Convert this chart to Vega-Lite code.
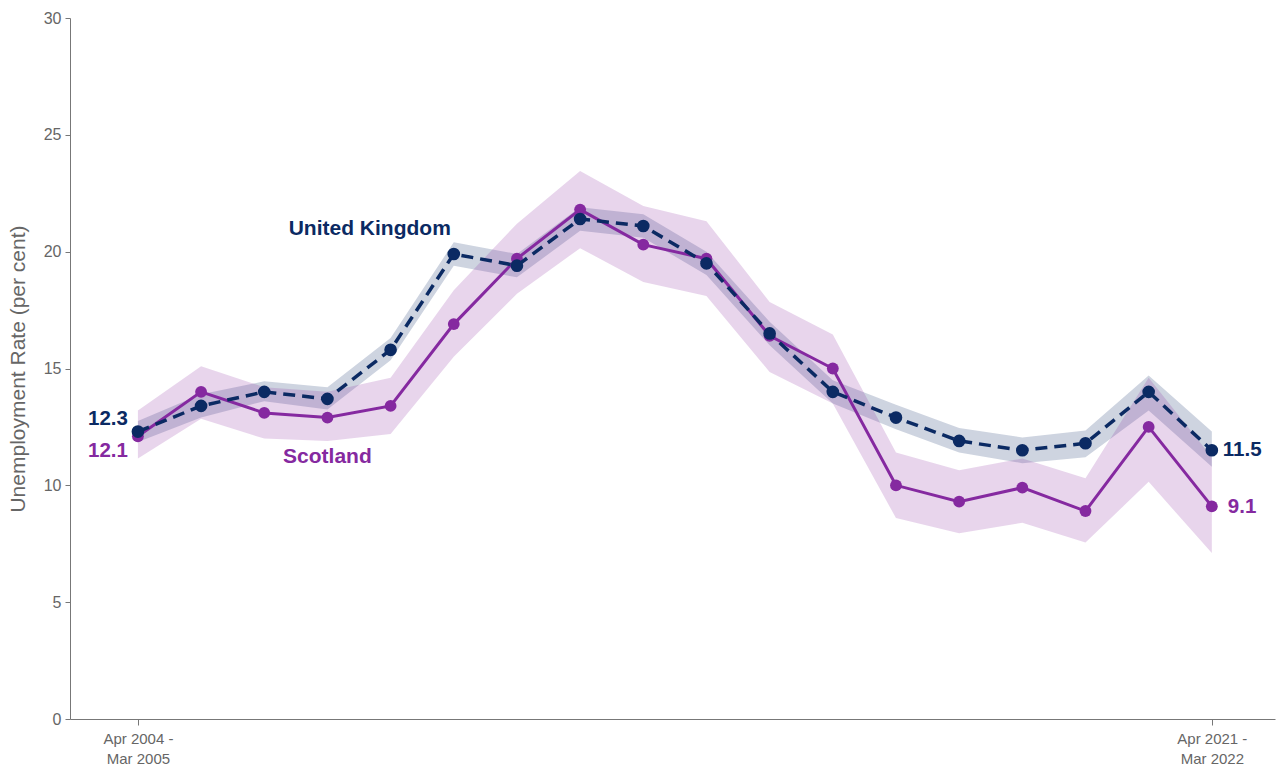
{
  "$schema": "https://vega.github.io/schema/vega-lite/v6.json",
  "width": 1205,
  "height": 701,
  "autosize": {"type": "none"},
  "padding": {"left": 70, "top": 18, "right": 1, "bottom": 48},
  "background": "white",
  "config": {"view": {"stroke": null}, "font": "Liberation Sans"},
  "data": {"values": [
    {"i": 0, "series": "United Kingdom", "rate": 12.3, "lo": 11.85, "hi": 12.75},
    {"i": 1, "series": "United Kingdom", "rate": 13.4, "lo": 12.9, "hi": 13.9},
    {"i": 2, "series": "United Kingdom", "rate": 14.0, "lo": 13.6, "hi": 14.45},
    {"i": 3, "series": "United Kingdom", "rate": 13.7, "lo": 13.25, "hi": 14.2},
    {"i": 4, "series": "United Kingdom", "rate": 15.8, "lo": 15.35, "hi": 16.3},
    {"i": 5, "series": "United Kingdom", "rate": 19.9, "lo": 19.4, "hi": 20.4},
    {"i": 6, "series": "United Kingdom", "rate": 19.4, "lo": 18.9, "hi": 19.9},
    {"i": 7, "series": "United Kingdom", "rate": 21.4, "lo": 20.9, "hi": 21.9},
    {"i": 8, "series": "United Kingdom", "rate": 21.1, "lo": 20.6, "hi": 21.6},
    {"i": 9, "series": "United Kingdom", "rate": 19.5, "lo": 19.0, "hi": 20.0},
    {"i": 10, "series": "United Kingdom", "rate": 16.5, "lo": 16.0, "hi": 17.0},
    {"i": 11, "series": "United Kingdom", "rate": 14.0, "lo": 13.5, "hi": 14.5},
    {"i": 12, "series": "United Kingdom", "rate": 12.9, "lo": 12.4, "hi": 13.45},
    {"i": 13, "series": "United Kingdom", "rate": 11.9, "lo": 11.4, "hi": 12.45},
    {"i": 14, "series": "United Kingdom", "rate": 11.5, "lo": 10.95, "hi": 12.05},
    {"i": 15, "series": "United Kingdom", "rate": 11.8, "lo": 11.2, "hi": 12.35},
    {"i": 16, "series": "United Kingdom", "rate": 14.0, "lo": 13.2, "hi": 14.7},
    {"i": 17, "series": "United Kingdom", "rate": 11.5, "lo": 10.8, "hi": 12.3},
    {"i": 0, "series": "Scotland", "rate": 12.1, "lo": 11.15, "hi": 13.2},
    {"i": 1, "series": "Scotland", "rate": 14.0, "lo": 12.85, "hi": 15.1},
    {"i": 2, "series": "Scotland", "rate": 13.1, "lo": 12.0, "hi": 14.2},
    {"i": 3, "series": "Scotland", "rate": 12.9, "lo": 11.9, "hi": 14.0},
    {"i": 4, "series": "Scotland", "rate": 13.4, "lo": 12.2, "hi": 14.6},
    {"i": 5, "series": "Scotland", "rate": 16.9, "lo": 15.5, "hi": 18.35},
    {"i": 6, "series": "Scotland", "rate": 19.7, "lo": 18.2, "hi": 21.2},
    {"i": 7, "series": "Scotland", "rate": 21.8, "lo": 20.15, "hi": 23.45},
    {"i": 8, "series": "Scotland", "rate": 20.3, "lo": 18.7, "hi": 21.95},
    {"i": 9, "series": "Scotland", "rate": 19.7, "lo": 18.1, "hi": 21.3},
    {"i": 10, "series": "Scotland", "rate": 16.4, "lo": 14.85, "hi": 17.85},
    {"i": 11, "series": "Scotland", "rate": 15.0, "lo": 13.5, "hi": 16.45},
    {"i": 12, "series": "Scotland", "rate": 10.0, "lo": 8.6, "hi": 11.4},
    {"i": 13, "series": "Scotland", "rate": 9.3, "lo": 7.95, "hi": 10.65},
    {"i": 14, "series": "Scotland", "rate": 9.9, "lo": 8.4, "hi": 11.15},
    {"i": 15, "series": "Scotland", "rate": 8.9, "lo": 7.55, "hi": 10.3},
    {"i": 16, "series": "Scotland", "rate": 12.5, "lo": 10.15, "hi": 14.6},
    {"i": 17, "series": "Scotland", "rate": 9.1, "lo": 7.1, "hi": 11.2}
  ]},
  "encoding": {
    "x": {
      "field": "i", "type": "quantitative",
      "scale": {"domain": [-1.075, 18.0], "nice": false, "zero": false},
      "axis": {
        "title": null, "grid": false, "values": [0, 17],
        "domainColor": "#777", "tickColor": "#777", "tickSize": 6,
        "labelColor": "#666", "labelFontSize": 15, "labelPadding": 6,
        "labelLineHeight": 20,
        "labelExpr": "datum.value == 0 ? ['Apr 2004 -', 'Mar 2005'] : ['Apr 2021 -', 'Mar 2022']"
      }
    },
    "y": {
      "field": "rate", "type": "quantitative",
      "scale": {"domain": [0, 30], "nice": false},
      "axis": {
        "title": "Unemployment Rate (per cent)", "grid": false,
        "values": [0, 5, 10, 15, 20, 25, 30],
        "domainColor": "#777", "tickColor": "#777", "tickSize": 5,
        "labelColor": "#666", "labelFontSize": 16, "labelPadding": 4,
        "titleColor": "#666", "titleFontSize": 21, "titleFontWeight": "normal",
        "titlePadding": 15
      }
    }
  },
  "layer": [
    {
      "transform": [{"filter": "datum.series == 'United Kingdom'"}],
      "mark": {"type": "area", "color": "#0b2a63", "opacity": 0.2},
      "encoding": {"y": {"field": "lo", "type": "quantitative"}, "y2": {"field": "hi"}}
    },
    {
      "transform": [{"filter": "datum.series == 'Scotland'"}],
      "mark": {"type": "area", "color": "#8a2ba0", "opacity": 0.2},
      "encoding": {"y": {"field": "lo", "type": "quantitative"}, "y2": {"field": "hi"}}
    },
    {
      "transform": [{"filter": "datum.series == 'Scotland'"}],
      "mark": {"type": "line", "color": "#8529a0", "strokeWidth": 3},
      "encoding": {}
    },
    {
      "transform": [{"filter": "datum.series == 'Scotland'"}],
      "mark": {"type": "circle", "color": "#8529a0", "opacity": 1, "size": 140},
      "encoding": {}
    },
    {
      "transform": [{"filter": "datum.series == 'United Kingdom'"}],
      "mark": {"type": "line", "color": "#0b2a63", "strokeWidth": 3.5, "strokeDash": [12, 7]},
      "encoding": {}
    },
    {
      "transform": [{"filter": "datum.series == 'United Kingdom'"}],
      "mark": {"type": "circle", "color": "#0b2a63", "opacity": 1, "size": 160},
      "encoding": {}
    },
    {
      "transform": [{"filter": "datum.series == 'United Kingdom' && datum.i == 0"}],
      "mark": {"type": "text", "color": "#0b2a63", "fontSize": 20.5, "fontWeight": "bold", "align": "right", "baseline": "middle", "dx": -10, "dy": -13},
      "encoding": {"text": {"field": "rate", "type": "quantitative", "format": ".1f"}}
    },
    {
      "transform": [{"filter": "datum.series == 'Scotland' && datum.i == 0"}],
      "mark": {"type": "text", "color": "#8529a0", "fontSize": 20.5, "fontWeight": "bold", "align": "right", "baseline": "middle", "dx": -10, "dy": 15},
      "encoding": {"text": {"field": "rate", "type": "quantitative", "format": ".1f"}}
    },
    {
      "transform": [{"filter": "datum.series == 'United Kingdom' && datum.i == 17"}],
      "mark": {"type": "text", "color": "#0b2a63", "fontSize": 20.5, "fontWeight": "bold", "align": "left", "baseline": "middle", "dx": 11, "dy": 0},
      "encoding": {"text": {"field": "rate", "type": "quantitative", "format": ".1f"}}
    },
    {
      "transform": [{"filter": "datum.series == 'Scotland' && datum.i == 17"}],
      "mark": {"type": "text", "color": "#8529a0", "fontSize": 20.5, "fontWeight": "bold", "align": "left", "baseline": "middle", "dx": 16, "dy": 1},
      "encoding": {"text": {"field": "rate", "type": "quantitative", "format": ".1f"}}
    },
    {
      "transform": [{"filter": "datum.series == 'United Kingdom' && datum.i == 0"}],
      "mark": {"type": "text", "color": "#0b2a63", "fontSize": 21, "fontWeight": "bold", "align": "center", "baseline": "middle"},
      "encoding": {"x": {"datum": 3.67}, "y": {"datum": 20.97}, "text": {"field": "series"}}
    },
    {
      "transform": [{"filter": "datum.series == 'Scotland' && datum.i == 0"}],
      "mark": {"type": "text", "color": "#8529a0", "fontSize": 21, "fontWeight": "bold", "align": "center", "baseline": "middle"},
      "encoding": {"x": {"datum": 3.0}, "y": {"datum": 11.2}, "text": {"field": "series"}}
    }
  ]
}
